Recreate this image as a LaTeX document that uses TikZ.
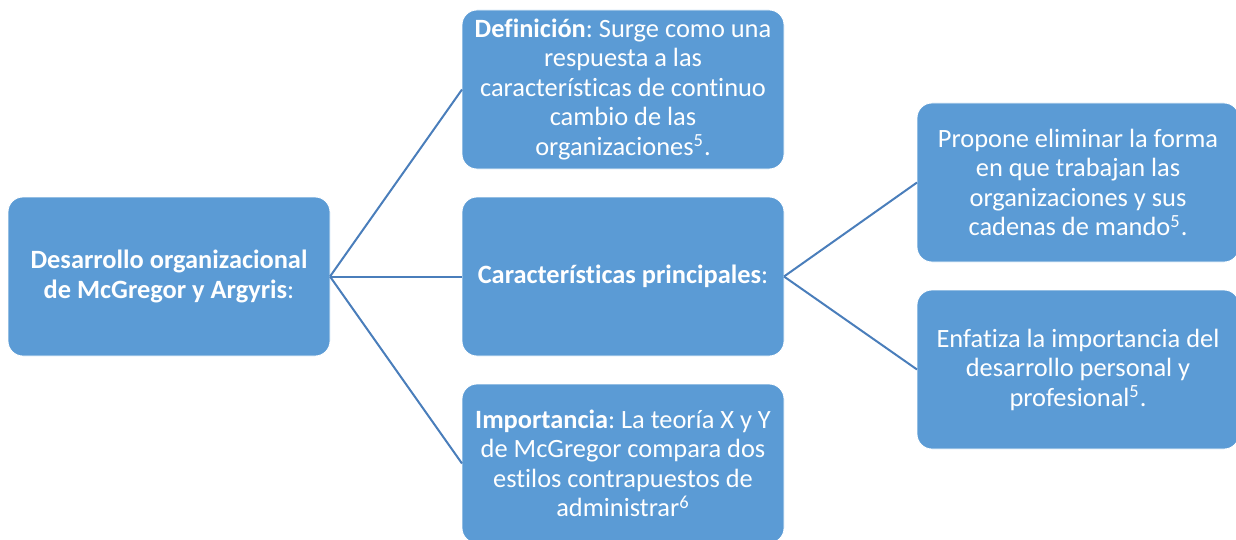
\documentclass[tikz,border=0pt]{standalone}
\usepackage{fontspec}
\setmainfont{Carlito}[Ligatures=NoCommon]
\usetikzlibrary{positioning}
\definecolor{boxblue}{HTML}{5B9BD5}
\definecolor{linkblue}{HTML}{4A7EBB}
\frenchspacing

\begin{document}
\begin{tikzpicture}[x=1pt, y=1pt,
  box/.style={rectangle, fill=boxblue, draw=white, line width=0.4pt, minimum width=161pt, minimum height=79.5pt,
    align=center, text=white, font=\fontsize{13.2}{14.75}\selectfont, rounded corners=7.5pt, outer sep=0pt},
  link/.style={line width=1pt, linkblue}
]
  \useasboundingbox (0,0) rectangle (618,-270);
  \node[box] (root) at (84.5,-138.25) {\textbf{Desarrollo organizacional}\\\textbf{de McGregor y Argyris}:};
  \node[box] (defin) at (311.5,-44.75) {\textbf{Definición}: Surge como una\\respuesta a las\\características de continuo\\cambio de las\\organizaciones\textsuperscript{5}.};
  \node[box] (carac) at (311.5,-138.25) {\textbf{Características principales}:};
  \node[box] (impor) at (311.5,-231.75) {\textbf{Importancia}: La teoría X y Y\\de McGregor compara dos\\estilos contrapuestos de\\administrar\textsuperscript{6}};
  \node[box] (prop) at (539,-91.25) {Propone eliminar la forma\\en que trabajan las\\organizaciones y sus\\cadenas de mando\textsuperscript{5}.};
  \node[box] (enfa) at (539,-184.75) {Enfatiza la importancia del\\desarrollo personal y\\profesional\textsuperscript{5}.};

  \draw[link] (root.east) -- (defin.west);
  \draw[link] (root.east) -- (carac.west);
  \draw[link] (root.east) -- (impor.west);
  \draw[link] (carac.east) -- (prop.west);
  \draw[link] (carac.east) -- (enfa.west);
\end{tikzpicture}
\end{document}
